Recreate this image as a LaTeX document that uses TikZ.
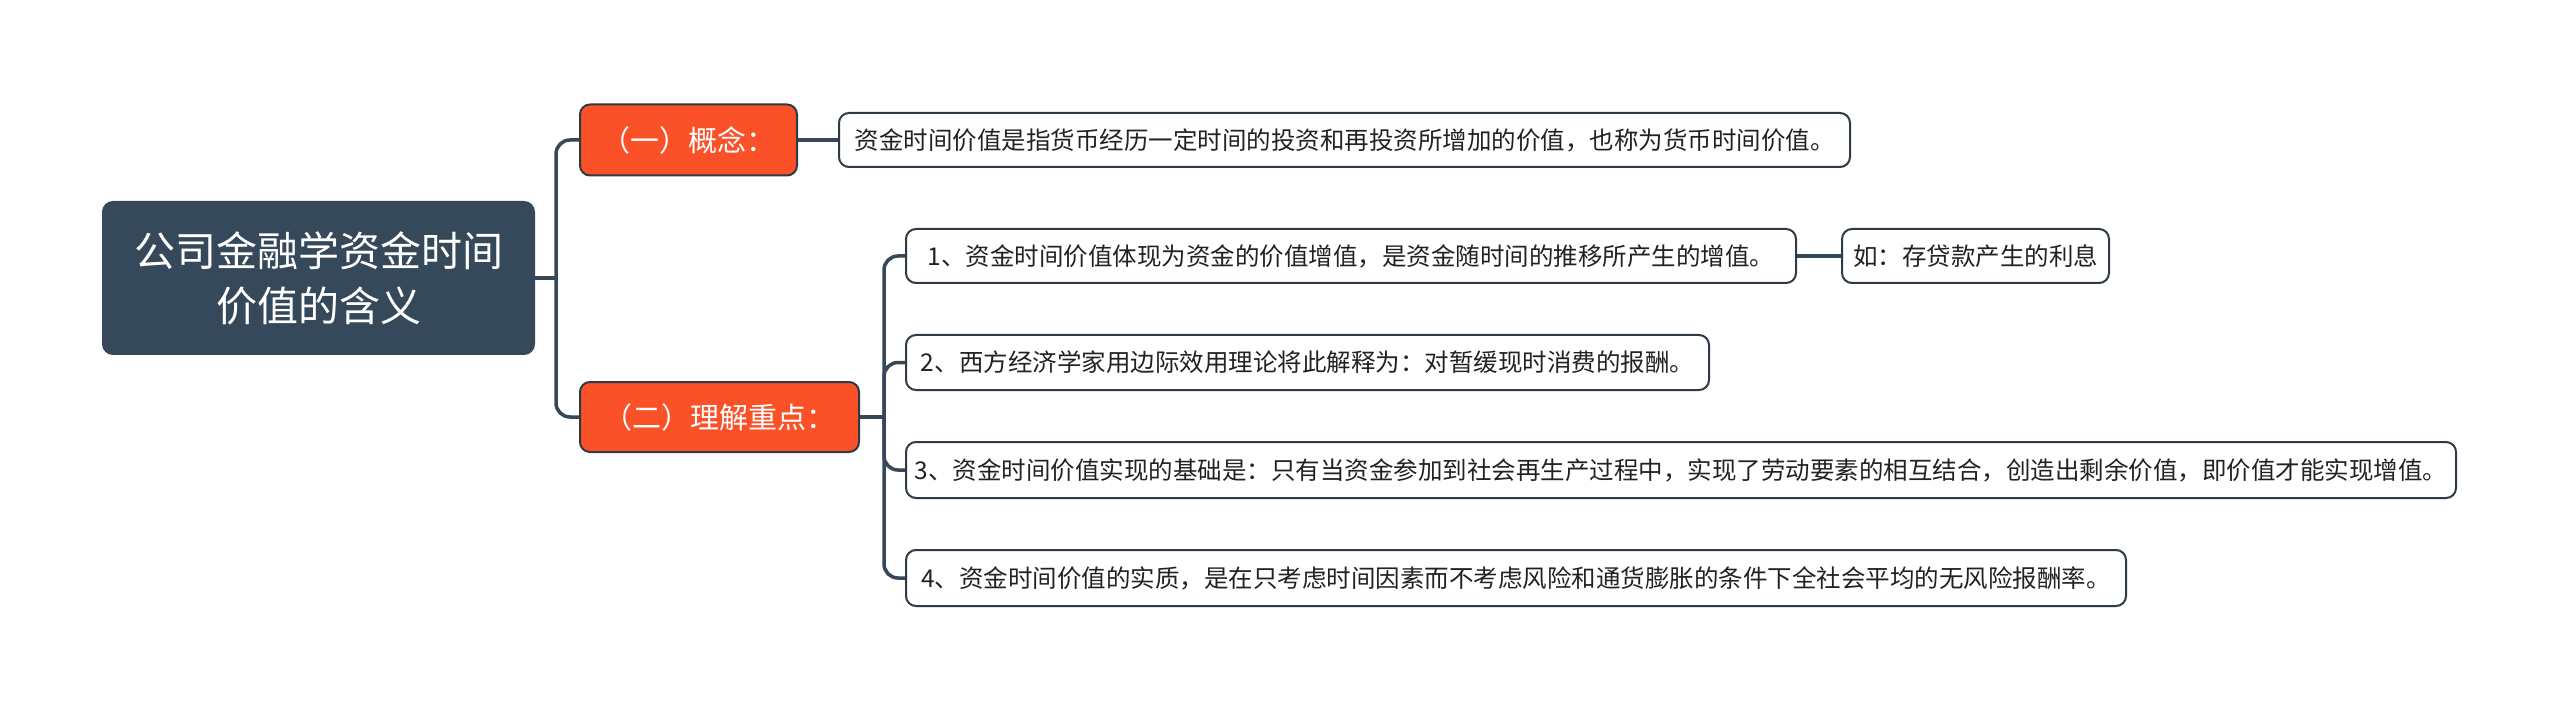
\documentclass[tikz,border=0pt]{standalone}
\usepackage{fontspec}
\setmainfont{Noto Sans CJK SC}
\definecolor{rootc}{HTML}{36495A}
\definecolor{orangec}{HTML}{FA5128}
\definecolor{linec}{HTML}{35485A}
\definecolor{borderc}{HTML}{2E3A46}
\definecolor{textc}{HTML}{222222}
\begin{document}
\begin{tikzpicture}[x=1pt,y=-1pt,
 rootbox/.style={draw=rootc, line width=2pt, fill=rootc, rounded corners=10pt, text=white, font=\fontsize{41}{55}\selectfont, align=center, inner sep=0pt},
 midbox/.style={draw=borderc, line width=2pt, fill=orangec, rounded corners=10pt, text=white, font=\fontsize{29}{34}\selectfont, inner sep=0pt},
 leafbox/.style={draw=borderc, line width=2pt, fill=white, rounded corners=10pt, text=textc, font=\fontsize{24.5}{30}\selectfont, inner sep=0pt},
 conn/.style={draw=linec, line width=3.5pt, rounded corners=14pt},
 connplain/.style={draw=linec, line width=3.5pt}
]
\useasboundingbox (0,0) rectangle (2560,711);
\fill[white] (0,0) rectangle (2560,711);

\node[rootbox, minimum width=431pt, minimum height=152pt] (root) at (318.5,278) {公司金融学资金时间\\价值的含义};

\node[midbox, minimum width=217pt, minimum height=71pt] (n1) at (688.5,140) {（一）概念：};
\node[midbox, minimum width=279pt, minimum height=70pt] (n2) at (719.5,417) {（二）理解重点：};

\node[leafbox, minimum width=1011pt, minimum height=54pt] (c1) at (1344.5,140) {资金时间价值是指货币经历一定时间的投资和再投资所增加的价值，也称为货币时间价值。};

\node[leafbox, minimum width=890pt, minimum height=54pt] (l1) at (1351,256) {1、资金时间价值体现为资金的价值增值，是资金随时间的推移所产生的增值。};
\node[leafbox, minimum width=267pt, minimum height=54pt] (ex) at (1975.5,256) {如：存贷款产生的利息};
\node[leafbox, minimum width=803pt, minimum height=55pt] (l2) at (1307.5,362.5) {2、西方经济学家用边际效用理论将此解释为：对暂缓现时消费的报酬。};
\node[leafbox, minimum width=1550pt, minimum height=56pt] (l3) at (1681,470) {3、资金时间价值实现的基础是：只有当资金参加到社会再生产过程中，实现了劳动要素的相互结合，创造出剩余价值，即价值才能实现增值。};
\node[leafbox, minimum width=1220pt, minimum height=56pt] (l4) at (1516,578) {4、资金时间价值的实质，是在只考虑时间因素而不考虑风险和通货膨胀的条件下全社会平均的无风险报酬率。};

\coordinate (t1) at (556,278);
\coordinate (t2) at (884,417);

\draw[connplain] (root.east) -- (t1);
\draw[conn] (t1) |- (n1.west);
\draw[conn] (t1) |- (n2.west);
\draw[connplain] (n1.east) -- (c1.west);
\draw[connplain] (n2.east) -- (t2);
\draw[conn] (t2) |- (l1.west);
\draw[conn] (t2) |- (l2.west);
\draw[conn] (t2) |- (l3.west);
\draw[conn] (t2) |- (l4.west);
\draw[connplain] (l1.east) -- (ex.west);
\end{tikzpicture}
\end{document}
